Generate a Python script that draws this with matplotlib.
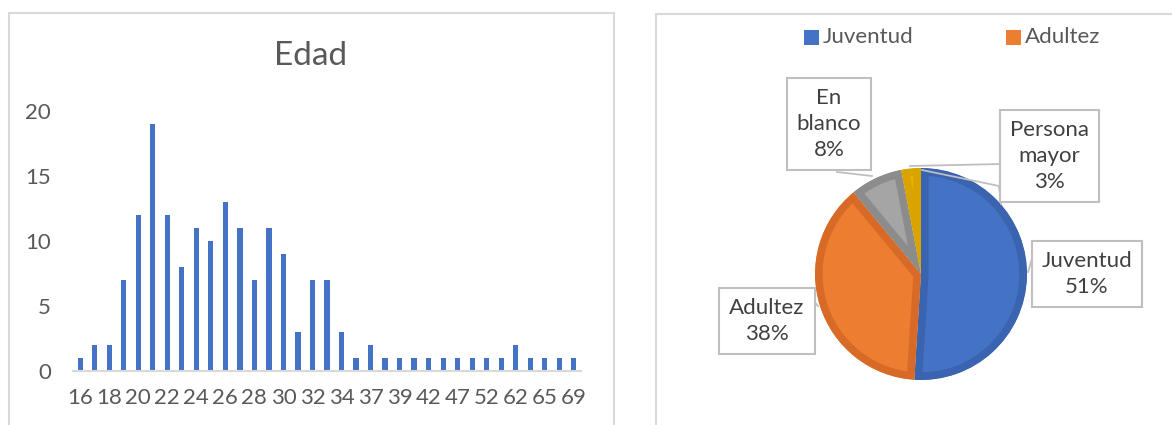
import matplotlib
matplotlib.use("Agg")
import matplotlib.pyplot as plt
from matplotlib.patches import Rectangle, Wedge

plt.rcParams["font.family"] = ["Lato", "DejaVu Sans"]

# ---------- datos ----------
edades = [16, 17, 18, 19, 20, 21, 22, 23, 24, 25, 26, 27, 28, 29, 30, 31, 32, 33, 34,
          35, 37, 38, 39, 40, 42, 45, 47, 50, 52, 55, 62, 63, 65, 67, 69]
frecuencia = [1, 2, 2, 7, 12, 19, 12, 8, 11, 10, 13, 11, 7, 11, 9, 3, 7, 7, 3,
              1, 2, 1, 1, 1, 1, 1, 1, 1, 1, 1, 2, 1, 1, 1, 1]
yticks = [0, 5, 10, 15, 20]

grupos = ["Juventud", "Adultez", "En blanco", "Persona\nmayor"]
porcentajes = [51, 38, 8, 3]
colores = ["#4472C4", "#ED7D31", "#A5A5A5", "#E8B000"]
bordes = ["#3A63B0", "#D66A26", "#8C8C8C", "#D9A400"]

W, H = 1172, 425
fig = plt.figure(figsize=(W / 100, H / 100), dpi=100)


def fx(px):
    return px / W


def fy(py):
    return 1 - py / H


# marcos de los dos graficos
fig.add_artist(Rectangle((fx(9), fy(440)), fx(605), (440 - 13) / H, transform=fig.transFigure,
                         fill=False, edgecolor="#d9d9d9", linewidth=1.5))
fig.add_artist(Rectangle((fx(656), fy(440)), fx(600), (440 - 14) / H, transform=fig.transFigure,
                         fill=False, edgecolor="#d9d9d9", linewidth=1.5))

# ---------- histograma de edad ----------
ax = fig.add_axes([fx(73), fy(371), fx(581 - 73), (371 - 111) / H])
x = list(range(len(edades)))
ax.bar(x, frecuencia, width=0.36, color="#4472C4")
ax.set_xlim(-0.5, len(edades) - 0.5)
ax.set_ylim(0, 20)
ax.set_yticks(yticks)
ax.set_xticks(x[::2])
ax.set_xticklabels([str(e) for e in edades[::2]])
for s in ["top", "right", "left"]:
    ax.spines[s].set_visible(False)
ax.spines["bottom"].set_color("#d9d9d9")
ax.spines["bottom"].set_linewidth(1.5)
ax.tick_params(length=0, labelsize=16, colors="#595959")
ax.tick_params(axis="x", pad=12)
ax.tick_params(axis="y", pad=16)
fig.text(fx(311), fy(56), "Edad", ha="center", va="center", fontsize=24, color="#595959")

# ---------- pastel ----------
cx, cy, r = 921, 274, 106
pax = fig.add_axes([fx(660), fy(420), fx(510), 400 / H])
pax.set_xlim((660 - cx) / r, (1170 - cx) / r)
pax.set_ylim((cy - 420) / r, (cy - 20) / r)
pax.set_aspect("equal")
pax.axis("off")

ang = 90.0
for pct, c, b in zip(porcentajes, colores, bordes):
    a2 = ang
    a1 = ang - pct * 3.6
    w = Wedge((0, 0), 1, a1, a2, facecolor=c, edgecolor=b, linewidth=11)
    pax.add_patch(w)
    w.set_clip_path(w)
    ang = a1


def caja(px, py, txt):
    pax.text((px - cx) / r, (cy - py) / r, txt, ha="center", va="center",
             fontsize=16, color="#404040", linespacing=1.35,
             bbox=dict(boxstyle="square,pad=0.45", facecolor="white",
                       edgecolor="#bfbfbf", linewidth=1.5))


def linea(pts):
    pax.plot([(p[0] - cx) / r for p in pts], [(cy - p[1]) / r for p in pts],
             color="#bfbfbf", linewidth=1.3, zorder=1)


linea([(837, 172), (872, 176)])
linea([(1001, 164), (910, 166)])
linea([(922, 170), (999, 186), (1001, 204)])
linea([(1034, 252), (1028, 272)])
linea([(813, 300), (818, 306)])

caja(1087, 274, grupos[0] + "\n" + "51%")
caja(767, 321, grupos[1] + "\n" + "38%")
caja(829, 124, "En\nblanco\n8%")
caja(1049, 156, grupos[3] + "\n" + "3%")

# leyenda (solo las dos primeras categorias)
for i, lx in enumerate([804, 1006]):
    fig.add_artist(Rectangle((fx(lx), fy(45)), fx(15), 15 / H, transform=fig.transFigure,
                             facecolor=colores[i], edgecolor="none"))
    fig.text(fx(lx + 19), fy(37), grupos[i], ha="left", va="center",
             fontsize=16, color="#595959")

fig.savefig("out.png", dpi=100)
